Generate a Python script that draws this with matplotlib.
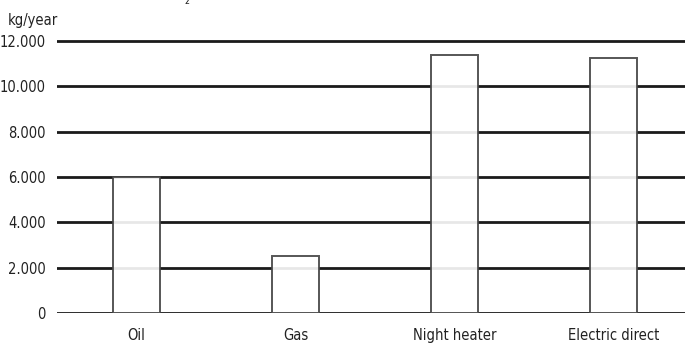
import matplotlib.pyplot as plt

categories = ['Oil', 'Gas', 'Night heater', 'Electric direct']
values = [6000, 2500, 11400, 11250]
yticks = [0, 2000, 4000, 6000, 8000, 10000, 12000]
ytick_labels = ['0', '2.000', '4.000', '6.000', '8.000', '10.000', '12.000']

plt.rcParams['font.family'] = ['DejaVu Sans']
plt.rcParams['font.stretch'] = 'condensed'

fig = plt.figure(figsize=(6.9, 3.43), dpi=100)
ax = fig.add_axes([57 / 690, 30 / 343, 628 / 690, 285 / 343])

x = list(range(len(categories)))
ax.bar(x, values, width=0.29, facecolor='white', alpha=0.9,
       edgecolor='#444444', linewidth=1.4, zorder=3)

ax.set_ylim(0, 12000 * 285 / 272)
ax.set_xlim(-0.5, 3.45)
ax.set_yticks(yticks)
ax.set_yticklabels(ytick_labels)
ax.set_xticks(x)
ax.set_xticklabels(categories)
ax.yaxis.grid(True, color='#1a1a1a', linewidth=2, zorder=1)
ax.set_axisbelow(True)
for s in ax.spines.values():
    s.set_visible(False)
ax.tick_params(length=0, labelsize=10.5, colors='#222222')
ax.tick_params(axis='y', pad=8)
ax.tick_params(axis='x', pad=11)

fig.text(8 / 690, 1 - 20 / 343, 'kg/year', fontsize=10.5, color='#222222', va='center')
fig.text(187 / 690, 1.0, '₂', fontsize=10, color='#222222', ha='center', va='center')

fig.savefig('out.png', dpi=100)
